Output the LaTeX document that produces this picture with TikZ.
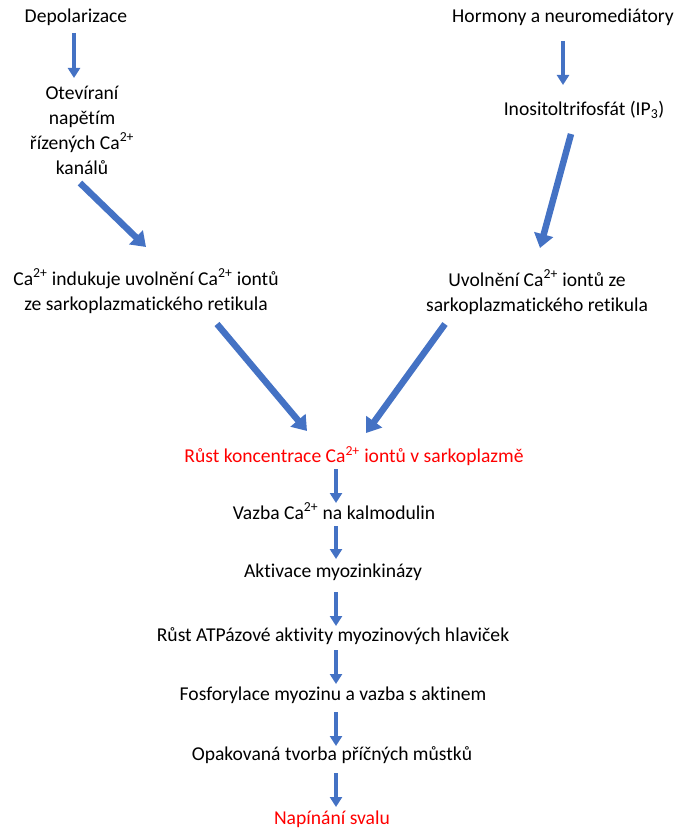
\documentclass[tikz,border=0pt]{standalone}
\usepackage{fontspec}
\setmainfont{Carlito}[Ligatures={NoCommon,NoContextual}]
\usetikzlibrary{arrows.meta}
\definecolor{arrblue}{HTML}{4472C4}
\definecolor{txtred}{HTML}{FF0000}
\tikzset{
  lbl/.style={align=center, inner sep=0pt, font=\fontsize{19.6}{25}\selectfont},
  redlbl/.style={lbl, text=txtred},
  thinarr/.style={draw=arrblue, line width=4pt, -{Triangle[width=12pt,length=10pt]}},
  fatarr/.style={draw=arrblue, line width=6.5pt, -{Triangle[width=19pt,length=14pt]}}
}
\begin{document}
\begin{tikzpicture}[x=1pt,y=-1pt]
\useasboundingbox (0,0) rectangle (690,829);
% left branch
\node[lbl] (dep) at (76,17) {Depolarizace};
\node[lbl] (otev) at (82,130) {Otevíraní\\napětím\\řízených Ca\textsuperscript{2+}\\kanálů};
\node[lbl] (caind) at (146,291) {Ca\textsuperscript{2+} indukuje uvolnění Ca\textsuperscript{2+} iontů\\ze sarkoplazmatického retikula};
% right branch
\node[lbl] (horm) at (563,17) {Hormony a neuromediátory};
\node[lbl] (ip3) at (584,110) {Inositoltrifosfát (IP\textsubscript{3})};
\node[lbl] (uvol) at (537,292) {Uvolnění Ca\textsuperscript{2+} iontů ze\\sarkoplazmatického retikula};
% main chain
\node[redlbl] (rust) at (354,456) {Růst koncentrace Ca\textsuperscript{2+} iontů v sarkoplazmě};
\node[lbl] (vazba) at (334,511) {Vazba Ca\textsuperscript{2+} na kalmodulin};
\node[lbl] (aktiv) at (333,572) {Aktivace myozinkinázy};
\node[lbl] (atp) at (333,636) {Růst ATPázové aktivity myozinových hlaviček};
\node[lbl] (fosf) at (333,695) {Fosforylace myozinu a vazba s aktinem};
\node[lbl] (opak) at (332,755) {Opakovaná tvorba příčných můstků};
\node[redlbl] (nap) at (332,819) {Napínání svalu};
% arrow endpoints
\coordinate (a1s) at (74,33);   \coordinate (a1e) at (74,78);
\coordinate (a2s) at (80,183);  \coordinate (a2e) at (146,247);
\coordinate (a3s) at (563,41);  \coordinate (a3e) at (563,85);
\coordinate (a4s) at (571,134); \coordinate (a4e) at (540,248);
\coordinate (a5s) at (217,324); \coordinate (a5e) at (307,431);
\coordinate (a6s) at (445,324); \coordinate (a6e) at (366,433);
\coordinate (c1s) at (336,469); \coordinate (c1e) at (336,503);
\coordinate (c2s) at (336,526); \coordinate (c2e) at (336,559);
\coordinate (c3s) at (336,592); \coordinate (c3e) at (336,626);
\coordinate (c4s) at (336,650); \coordinate (c4e) at (336,684);
\coordinate (c5s) at (336,712); \coordinate (c5e) at (336,746);
\coordinate (c6s) at (336,773); \coordinate (c6e) at (336,807);
\draw[thinarr] (a1s) -- (a1e);
\draw[fatarr] (a2s) -- (a2e);
\draw[thinarr] (a3s) -- (a3e);
\draw[fatarr] (a4s) -- (a4e);
\draw[fatarr] (a5s) -- (a5e);
\draw[fatarr] (a6s) -- (a6e);
\draw[thinarr] (c1s) -- (c1e);
\draw[thinarr] (c2s) -- (c2e);
\draw[thinarr] (c3s) -- (c3e);
\draw[thinarr] (c4s) -- (c4e);
\draw[thinarr] (c5s) -- (c5e);
\draw[thinarr] (c6s) -- (c6e);
\end{tikzpicture}
\end{document}
